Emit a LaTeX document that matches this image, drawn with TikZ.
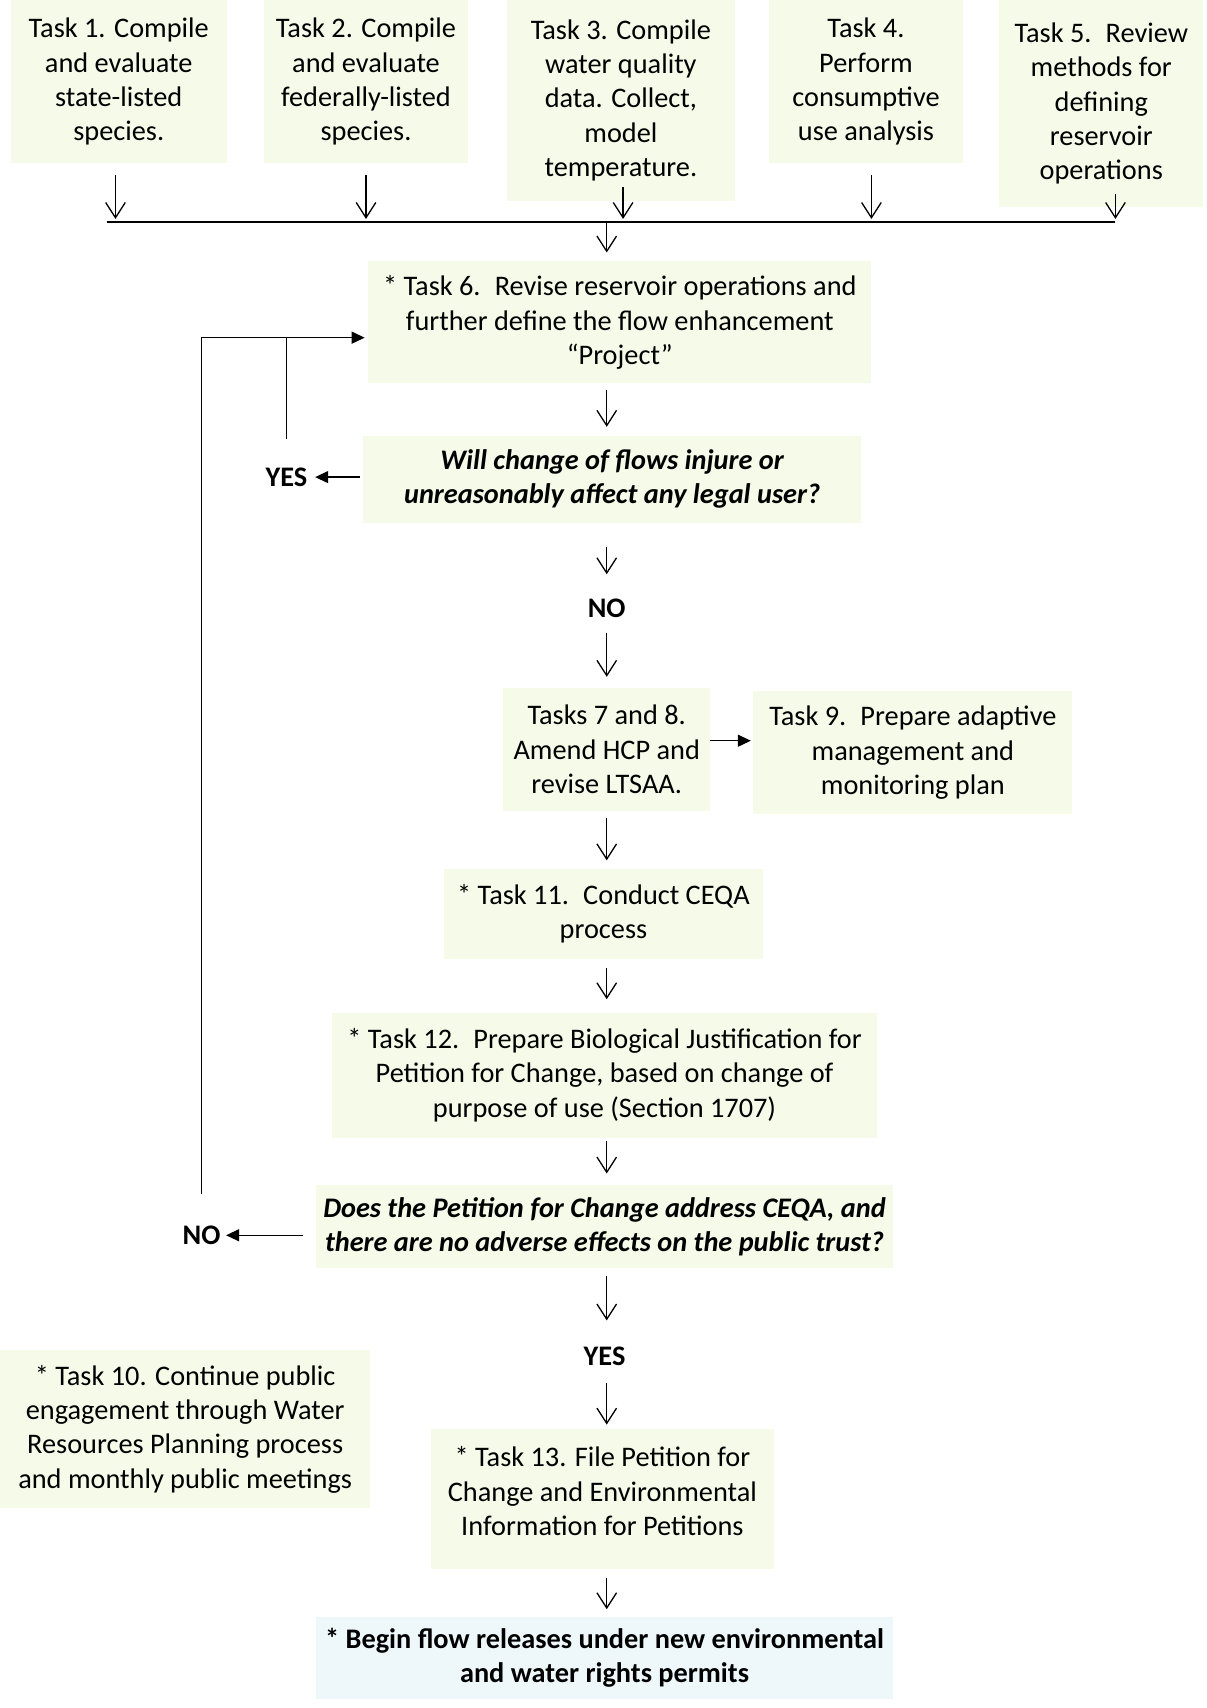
\documentclass[tikz,border=0pt]{standalone}
\usepackage{fontspec}
\setmainfont{Carlito}
\usetikzlibrary{arrows.meta, calc, positioning}
\definecolor{boxgreen}{RGB}{245,250,233}
\definecolor{boxblue}{RGB}{238,248,250}

\begin{document}
\begin{tikzpicture}[x=1pt,y=-1pt,font=\fontsize{26}{31.5}\selectfont,
  taskbox/.style={fill=boxgreen,align=center,inner sep=0pt},
  question/.style={taskbox,font=\fontsize{26}{31.5}\selectfont\bfseries\itshape},
  answer/.style={font=\fontsize{26}{31.5}\selectfont\bfseries,inner xsep=3pt,inner ysep=14pt},
  flow/.style={-{Straight Barb[length=14pt,width=18pt]},line width=1.2pt,shorten <=6pt,shorten >=8pt},
  solidflow/.style={-{Triangle[length=12pt,width=11pt]},line width=1.4pt}]

\useasboundingbox (0,0) rectangle (1108,1568);

% --- Task 1-5
\node[taskbox,minimum width=198pt,minimum height=150pt] (t1) at (109,75) {Task 1. Compile\\and evaluate\\state-listed\\species.};
\node[taskbox,minimum width=188pt,minimum height=150pt] (t2) at (336,75) {Task 2. Compile\\and evaluate\\federally-listed\\species.};
\node[taskbox,minimum width=210pt,minimum height=185pt] (t3) at (570,92) {Task 3. Compile\\water quality\\data. Collect,\\model\\temperature.};
\node[taskbox,minimum width=179pt,minimum height=150pt] (t4) at (795,75) {Task 4.\\Perform\\consumptive\\use analysis};
\node[taskbox,minimum width=187pt,minimum height=190pt] (t5) at (1011,95) {Task 5.\enspace Review\\methods for\\defining\\reservoir\\operations};

% --- Linea di raccolta
\coordinate (busL) at (98,204);
\coordinate (busR) at (1024,204);
\coordinate (busM) at (557,204);
\coordinate (loop) at (183,310);

\foreach \n/\dx/\dy in {t1/-3/-10,t2/0/-10,t3/2/13,t4/5/-10,t5/13/12}
  \draw[flow,shorten <=0pt,shorten >=3pt] ([xshift=\dx pt,yshift=\dy pt]\n.south) -- ([xshift=\dx pt]\n.south |- busL);

\draw[line width=1.5pt] (busL) -- (busR);

% --- Task 6 e prima domanda
\node[taskbox,minimum width=462pt,minimum height=112pt] (t6) at (569,296) {* Task 6.\enspace Revise reservoir operations and\\further define the flow enhancement\\``Project''};
\node[question,minimum width=457pt,minimum height=80pt] (q1) at (562,440) {Will change of flows injure or\\unreasonably affect any legal user?};
\node[answer] (yes1) at (263,438) {YES};
\node[answer] (no1) at (557,558) {NO};

% --- Task 7-13
\node[taskbox,minimum width=190pt,minimum height=113pt] (t78) at (557,688) {Tasks 7 and 8.\\Amend HCP and\\revise LTSAA.};
\node[taskbox,minimum width=293pt,minimum height=113pt] (t9) at (838,691) {Task 9.\enspace Prepare adaptive\\management and\\monitoring plan};
\node[taskbox,minimum width=292pt,minimum height=82pt] (t11) at (554,839) {* Task 11.\enspace Conduct CEQA\\process};
\node[taskbox,minimum width=500pt,minimum height=115pt] (t12) at (555,987) {* Task 12.\enspace Prepare Biological Justification for\\Petition for Change, based on change of\\purpose of use (Section 1707)};
\node[question,minimum width=530pt,minimum height=77pt] (q2) at (555,1126) {Does the Petition for Change address CEQA, and\\there are no adverse effects on the public trust?};
\node[answer] (no2) at (185,1134) {NO};
\node[answer] (yes2) at (555,1245) {YES};
\node[taskbox,minimum width=340pt,minimum height=145pt] (t10) at (170,1312) {* Task 10. Continue public\\engagement through Water\\Resources Planning process\\and monthly public meetings};
\node[taskbox,minimum width=315pt,minimum height=128pt,text depth=14pt] (t13) at (553,1376) {* Task 13. File Petition for\\Change and Environmental\\Information for Petitions};
\node[taskbox,fill=boxblue,font=\fontsize{26}{31.5}\selectfont\bfseries,minimum width=530pt,minimum height=75pt] (fin) at (555,1522) {* Begin flow releases under new environmental\\and water rights permits};

% --- Frecce principali
\draw[flow,shorten <=0pt] (busM) -- (t6.north -| busM);
\draw[flow] (t6.south -| busM) -- (q1.north -| busM);
\draw[flow,shorten <=22pt] (q1.south -| busM) -- (no1.north);
\draw[flow,shorten <=0pt,shorten >=10pt] (no1.south) -- (t78.north);
\draw[flow] (t78.south) -- (t11.north -| t78);
\draw[flow,shorten <=8pt,shorten >=12pt] (t11.south -| busM) -- (t12.north -| busM);
\draw[flow,shorten <=3pt,shorten >=10pt] (t12.south -| busM) -- (q2.north -| busM);
\draw[flow,shorten <=7pt,shorten >=10pt] (q2.south -| busM) -- (yes2.north -| busM);
\draw[flow,shorten <=2pt,shorten >=4pt] (yes2.south -| busM) -- (t13.north -| busM);
\draw[flow,shorten <=8pt,shorten >=7pt] (t13.south -| busM) -- (fin.north -| busM);

% --- Rami laterali
\draw[solidflow,shorten >=2pt] ([yshift=8pt]t78.east) -- ([yshift=8pt]t78.east -| t9.west);
\draw[solidflow,shorten <=3pt,shorten >=4pt] (q1.west |- yes1.east) -- (yes1.east);
\draw[line width=1.2pt,shorten <=12pt] (yes1.north) -- (yes1.north |- loop);
\draw[solidflow,shorten <=12pt,shorten >=2pt] (q2.west |- no2.east) -- (no2.east);
\draw[solidflow,shorten <=15pt,shorten >=3pt] (no2.north) |- ([yshift=-14pt]t6.west);

\end{tikzpicture}
\end{document}
